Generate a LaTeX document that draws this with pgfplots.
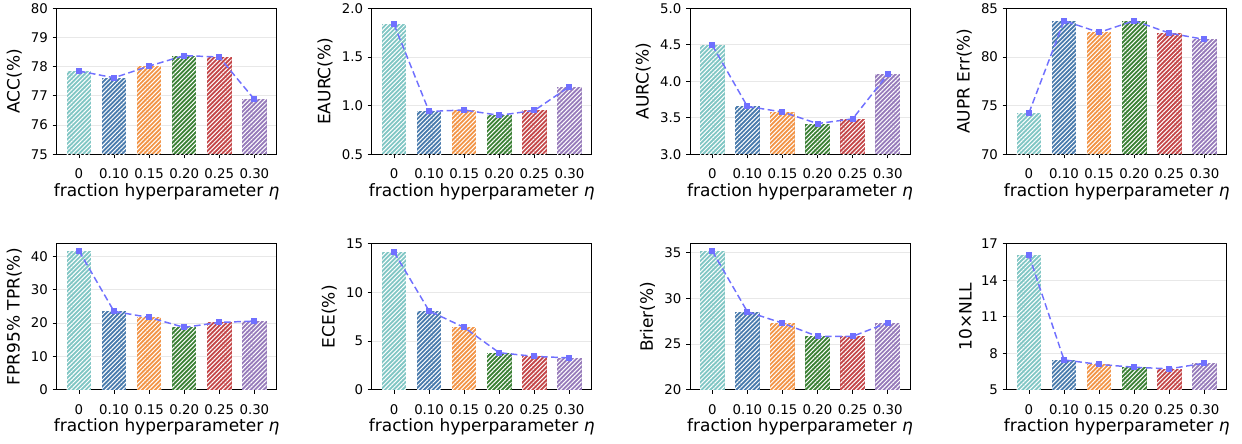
\documentclass[border=0pt]{standalone}
\usepackage{pgfplots}
\pgfplotsset{compat=1.18}
\usepackage{pgfplotstable}
\usepackage{fontspec}
\setmainfont{DejaVu Sans}
\usetikzlibrary{patterns.meta}

\definecolor{c0}{RGB}{128,198,196}
\definecolor{c1}{RGB}{72,122,172}
\definecolor{c2}{RGB}{242,148,70}
\definecolor{c3}{RGB}{58,128,52}
\definecolor{c4}{RGB}{196,70,72}
\definecolor{c5}{RGB}{150,122,186}
\definecolor{trendc}{RGB}{112,112,255}

% eta values are at x = 0..5
\pgfplotstableread{
x y
0 77.85
1 77.62
2 78.02
3 78.38
4 78.33
5 76.88
}\tabACC
\pgfplotstableread{
x y
0 1.835
1 0.94
2 0.955
3 0.90
4 0.95
5 1.195
}\tabEAURC
\pgfplotstableread{
x y
0 4.495
1 3.655
2 3.58
3 3.42
4 3.485
5 4.095
}\tabAURC
\pgfplotstableread{
x y
0 74.25
1 83.72
2 82.52
3 83.72
4 82.45
5 81.8
}\tabAUPR
\pgfplotstableread{
x y
0 41.7
1 23.5
2 21.7
3 18.7
4 20.2
5 20.6
}\tabFPR
\pgfplotstableread{
x y
0 14.15
1 8.1
2 6.4
3 3.8
4 3.43
5 3.27
}\tabECE
\pgfplotstableread{
x y
0 35.2
1 28.55
2 27.3
3 25.85
4 25.85
5 27.35
}\tabBrier
\pgfplotstableread{
x y
0 16.05
1 7.45
2 7.08
3 6.85
4 6.72
5 7.18
}\tabNLL

\pgfplotsset{
  hbar/.style={ybar, bar width=0.7, bar shift=0pt, draw=none, fill=#1,
    postaction={pattern={Lines[angle=45,distance=2.3pt,line width=0.75pt]}, pattern color=white}},
  trend/.style={color=trendc, line width=1.1pt, dash pattern=on 5pt off 2.6pt,
    mark=square*, mark size=1.7pt, mark options={solid, fill=trendc}},
  panel/.style={
    scale only axis, width=165pt, height=109.5pt, anchor=north west,
    xmin=-0.635, xmax=5.635,
    xtick={0,...,5}, xticklabels={0,0.10,0.15,0.20,0.25,0.30},
    xtick pos=bottom, ytick pos=left, tick align=outside,
    major tick length=3pt, tick style={black, line width=0.6pt},
    axis line style={line width=0.6pt},
    ymajorgrids, grid style={gray!18, line width=0.6pt},
    /pgf/number format/assume math mode=true,
    ticklabel style={font=\fontsize{10}{12}\selectfont},
    xticklabel shift=4.5pt,
    label style={font=\fontsize{12.75}{15}\selectfont},
    xlabel={fraction hyperparameter {\itshape η}},
    xlabel style={yshift=3.5pt},
  },
}

\newcommand{\panelplots}[1]{%
  \pgfplotsinvokeforeach{0,...,5}{%
    \addplot[hbar=c##1, restrict x to domain=##1:##1] table[x=x,y=y] {#1};
  }
  \addplot[trend] table[x=x,y=y] {#1};
}

\begin{document}
\begin{tikzpicture}
\begin{axis}[panel, at={(42.5pt,-6.2pt)}, ymin=75, ymax=80, ytick={75,...,80}, ylabel={ACC(\%)}]
\panelplots{\tabACC}
\end{axis}
\begin{axis}[panel, at={(278.8pt,-6.2pt)}, ymin=0.5, ymax=2.0, ytick={0.5,1.0,1.5,2.0},
  yticklabel style={/pgf/number format/.cd, fixed, fixed zerofill, precision=1}, ylabel={EAURC(\%)}]
\panelplots{\tabEAURC}
\end{axis}
\begin{axis}[panel, at={(517.5pt,-6.2pt)}, ymin=3.0, ymax=5.0, ytick={3.0,3.5,4.0,4.5,5.0},
  yticklabel style={/pgf/number format/.cd, fixed, fixed zerofill, precision=1}, ylabel={AURC(\%)}]
\panelplots{\tabAURC}
\end{axis}
\begin{axis}[panel, at={(755pt,-6.2pt)}, ymin=70, ymax=85, ytick={70,75,80,85}, ylabel={AUPR Err(\%)}]
\panelplots{\tabAUPR}
\end{axis}

\begin{axis}[panel, at={(42.5pt,-182.8pt)}, ymin=0, ymax=43.8, ytick={0,10,20,30,40}, ylabel={FPR95\% TPR(\%)}]
\panelplots{\tabFPR}
\end{axis}
\begin{axis}[panel, at={(278.8pt,-182.8pt)}, ymin=0, ymax=15, ytick={0,5,10,15}, ylabel={ECE(\%)}]
\panelplots{\tabECE}
\end{axis}
\begin{axis}[panel, at={(517.5pt,-182.8pt)}, ymin=20, ymax=36, ytick={20,25,30,35}, ylabel={Brier(\%)}]
\panelplots{\tabBrier}
\end{axis}
\begin{axis}[panel, at={(755pt,-182.8pt)}, ymin=5, ymax=17, ytick={5,8,11,14,17}, ylabel={10×NLL}]
\panelplots{\tabNLL}
\end{axis}
\pgfresetboundingbox
\useasboundingbox (0,0) rectangle (931.5pt,-332.25pt);
\end{tikzpicture}
\end{document}
